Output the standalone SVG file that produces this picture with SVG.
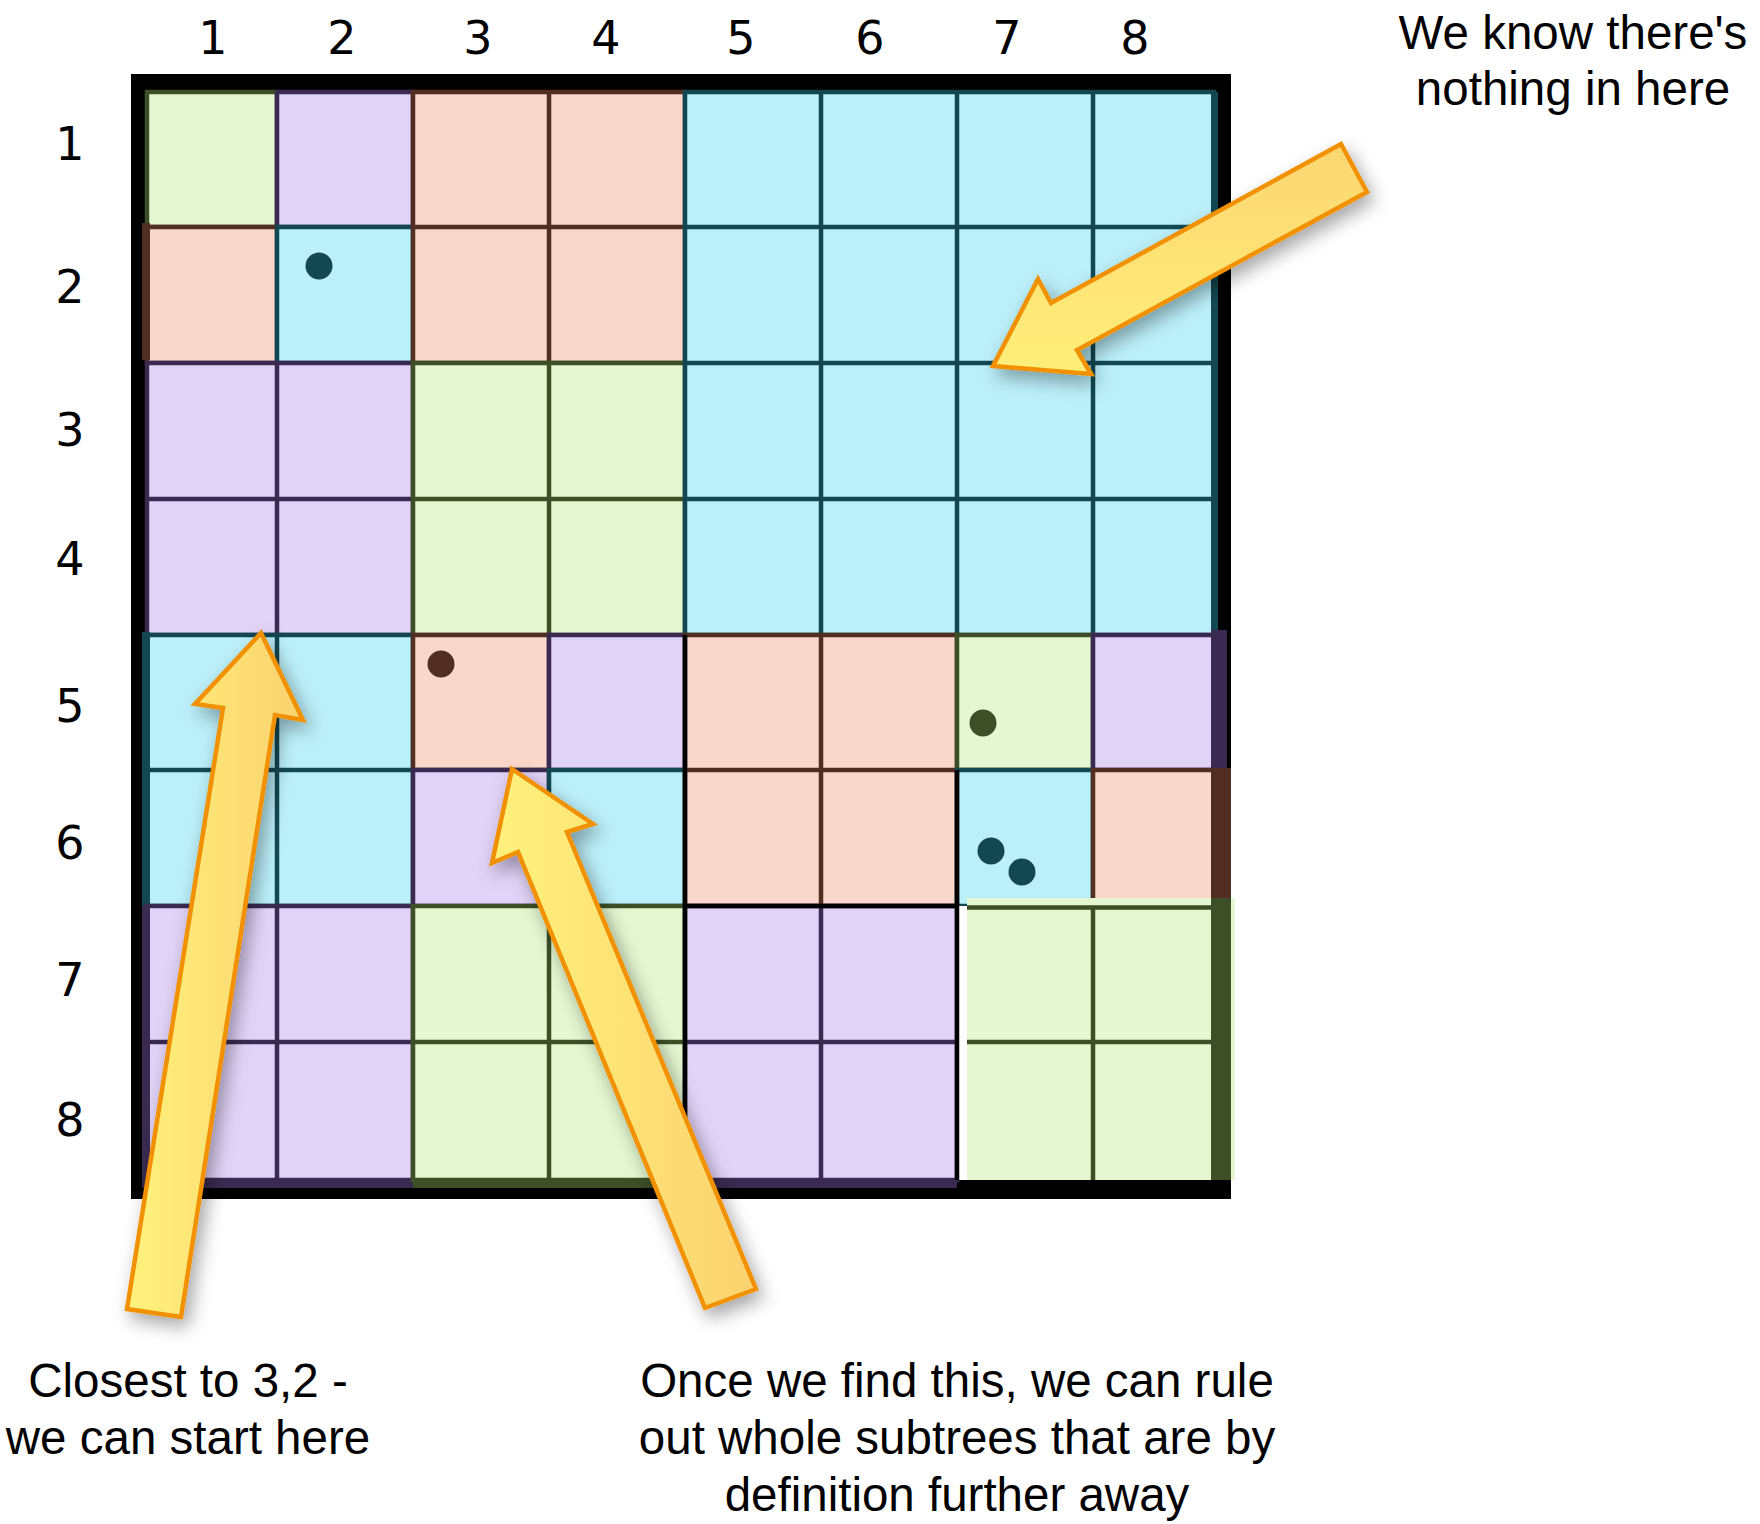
<svg xmlns="http://www.w3.org/2000/svg" width="1760" height="1524" viewBox="0 0 1760 1524">
<defs>
<style>
.g{fill:#E4F7D1;stroke:#3D4F27;stroke-width:4.5}
.p{fill:#E1D3F7;stroke:#3A2A51;stroke-width:4.5}
.s{fill:#FAD7CB;stroke:#522E22;stroke-width:4.5}
.c{fill:#BBEFF9;stroke:#134852;stroke-width:4.5}
.lg{stroke:#3D4F27;stroke-width:4.5;fill:none}
.lp{stroke:#3A2A51;stroke-width:4.5;fill:none}
.ls{stroke:#522E22;stroke-width:4.5;fill:none}
.lc{stroke:#134852;stroke-width:4.5;fill:none}
.dg{fill:#3D4F27}.dp{fill:#3A2A51}.ds{fill:#522E22}.dc{fill:#134852}
.num{font-family:"DejaVu Sans","Noto Sans",sans-serif;font-size:46px;fill:#000;text-anchor:middle}
.note{font-family:"Liberation Sans",Arial,sans-serif;font-size:47.5px;fill:#000;text-anchor:middle}
.arrow{stroke:#F29100;stroke-width:4.5;stroke-linejoin:miter;filter:url(#sh)}
</style>
<linearGradient id="gh" x1="0" y1="0" x2="1" y2="0">
<stop offset="0" stop-color="#FFF27C"/><stop offset="1" stop-color="#FBD26F"/>
</linearGradient>
<linearGradient id="gv" x1="0" y1="0" x2="0" y2="1">
<stop offset="0" stop-color="#FBD672"/><stop offset="1" stop-color="#FFEF79"/>
</linearGradient>
<filter id="sh" x="-30%" y="-30%" width="160%" height="160%">
<feDropShadow dx="5" dy="8" stdDeviation="9" flood-color="#000" flood-opacity="0.35"/>
</filter>
</defs>

<g id="frame">
<rect x="131" y="74" width="1100" height="1125" fill="#000"/>
</g>

<g id="cell-1-1"><rect class="g" x="147" y="92" width="130" height="135"/></g>
<g id="cell-1-2"><rect class="p" x="277" y="92" width="136" height="135"/></g>
<g id="cell-2-1"><rect class="s" x="147" y="227" width="130" height="136"/><rect class="ds" x="142" y="223" width="8" height="137"/></g>
<g id="cell-2-2"><rect class="c" x="277" y="227" width="136" height="136"/><circle class="dc" cx="319" cy="266" r="13.5"/></g>
<g id="block-s-top"><rect class="s" x="413" y="92" width="272" height="271"/><path class="ls" d="M549 92V363M413 227H685"/></g>
<g id="block-p-left"><rect class="p" x="147" y="363" width="266" height="272"/><path class="lp" d="M277 363V635M147 499H413"/></g>
<g id="block-g-mid"><rect class="g" x="413" y="363" width="272" height="272"/><path class="lg" d="M549 363V635M413 499H685"/></g>
<g id="block-c-topright"><rect class="c" x="685" y="92" width="529" height="543"/><path class="lc" d="M821 92V635M957 92V635M1093 92V635M685 227H1214M685 363H1214M685 499H1214"/><rect class="dc" x="1211" y="92" width="7" height="543"/></g>

<g id="block-c-left"><rect class="c" x="147" y="635" width="266" height="271"/><path class="lc" d="M277 635V906M147 770H413"/><rect class="dc" x="142" y="632" width="8" height="274"/></g>
<g id="cell-5-3"><rect class="s" x="413" y="635" width="136" height="135"/><circle class="ds" cx="441" cy="664" r="13.5"/></g>
<g id="cell-5-4"><rect class="p" x="549" y="635" width="136" height="135"/></g>
<g id="cell-6-3"><rect class="p" x="413" y="770" width="136" height="136"/></g>
<g id="cell-6-4"><rect class="c" x="549" y="770" width="136" height="136"/></g>
<g id="block-p-bl"><rect class="p" x="147" y="906" width="266" height="274"/><path class="lp" d="M277 906V1180M147 1042H413"/><rect class="dp" x="142" y="906" width="8" height="282"/><rect class="dp" x="142" y="1178" width="271" height="10"/></g>
<g id="block-g-bl"><rect class="g" x="413" y="906" width="272" height="274"/><path class="lg" d="M549 906V1180M413 1042H685"/><rect class="dg" x="413" y="1178" width="272" height="10"/></g>
<g id="block-s-br"><rect class="s" x="685" y="635" width="272" height="271"/><path class="ls" d="M821 635V906M685 770H957"/></g>
<g id="cell-5-7"><rect class="g" x="957" y="635" width="136" height="135"/><circle class="dg" cx="983" cy="723" r="13.5"/></g>
<g id="cell-5-8"><rect class="p" x="1093" y="635" width="121" height="135"/><rect class="dp" x="1211" y="630" width="16" height="138"/></g>
<g id="cell-6-7"><rect class="c" x="957" y="770" width="136" height="136"/><circle class="dc" cx="991" cy="851" r="13.5"/><circle class="dc" cx="1022" cy="872" r="13.5"/></g>
<g id="cell-6-8"><rect class="s" x="1093" y="770" width="121" height="136"/><rect class="ds" x="1211" y="768" width="20" height="138"/></g>
<g id="block-p-br"><rect class="p" x="685" y="906" width="272" height="274"/><path class="lp" d="M821 906V1180M685 1042H957"/><rect class="dp" x="685" y="1178" width="272" height="10"/></g>
<g id="block-g-br"><rect fill="#FFFFFF" x="959" y="906" width="8" height="274"/><rect fill="#E4F7D1" x="967" y="898" width="268" height="282"/><path class="lg" d="M967 907.5H1211M1093 907V1180M967 1042H1211"/><rect class="dg" x="1211" y="898" width="20" height="282"/></g>

<g id="quad-lines" stroke="#000" stroke-width="4.5" fill="none">
<path d="M685 635V1180M685 906H957M957 770V1180"/>
</g>

<g id="labels">
<text class="num" x="213" y="54">1</text>
<text class="num" x="342" y="54">2</text>
<text class="num" x="478" y="54">3</text>
<text class="num" x="606" y="54">4</text>
<text class="num" x="741" y="54">5</text>
<text class="num" x="870" y="54">6</text>
<text class="num" x="1007" y="54">7</text>
<text class="num" x="1135" y="54">8</text>
<text class="num" x="70" y="160">1</text>
<text class="num" x="70" y="303">2</text>
<text class="num" x="70" y="446">3</text>
<text class="num" x="70" y="575">4</text>
<text class="num" x="70" y="722">5</text>
<text class="num" x="70" y="859">6</text>
<text class="num" x="70" y="996">7</text>
<text class="num" x="70" y="1136">8</text>
</g>

<g id="connectors">
<polygon class="arrow" fill="url(#gv)" points="993,366 1038,279 1051,303 1341,144 1367,192 1077,350 1091,374"/>
<polygon class="arrow" fill="url(#gh)" points="261,633 303,720 275,715 181,1317 127,1309 223,708 195,704"/>
<polygon class="arrow" fill="url(#gh)" points="512,769 593,824 567,832 756,1289 705,1308 518,852 492,863"/>
</g>

<g id="note-top">
<text class="note" x="1573" y="49">We know there's</text>
<text class="note" x="1573" y="105">nothing in here</text>
</g>
<g id="note-left">
<text class="note" x="188" y="1397">Closest to 3,2 -</text>
<text class="note" x="188" y="1454">we can start here</text>
</g>
<g id="note-mid">
<text class="note" x="957" y="1397">Once we find this, we can rule</text>
<text class="note" x="957" y="1454">out whole subtrees that are by</text>
<text class="note" x="957" y="1511">definition further away</text>
</g>
</svg>
